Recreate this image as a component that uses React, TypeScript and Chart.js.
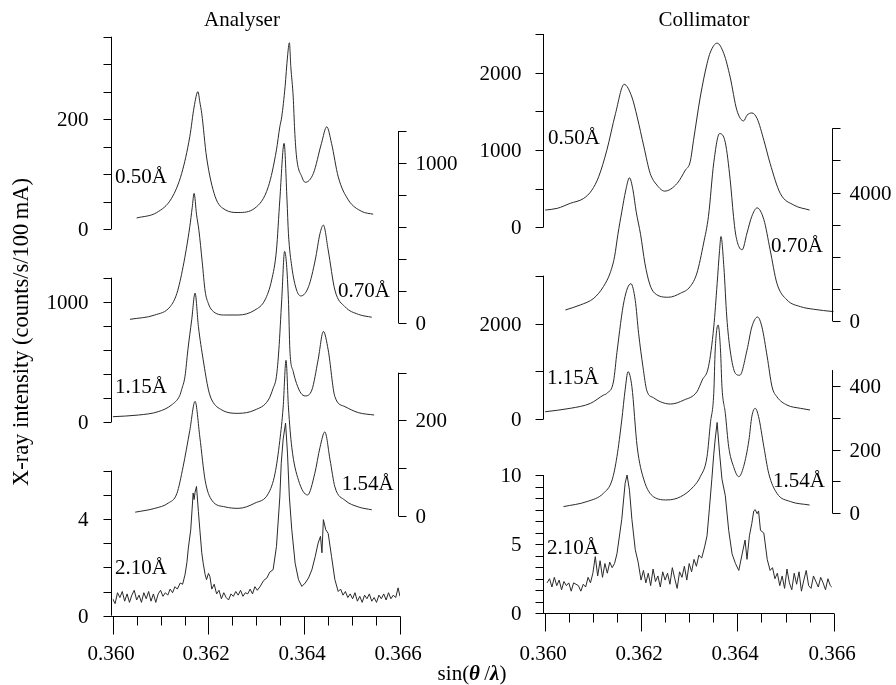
import React, { useEffect, useRef } from "react";
import { Chart, registerables } from "chart.js";

Chart.register(...registerables);

const W = 896;
const H = 685;
const FAMILY = "'Liberation Serif', 'Times New Roman', Times, serif";
const FONT = `21px ${FAMILY}`;
const FONT_BI = `italic bold 21px ${FAMILY}`;
const LINE_COLOR = "#2a2a2a";

// ---------- x axis ----------
const X_MIN = 0.36;
const X_MAX = 0.366;
const xMajorTicks = [0.36, 0.362, 0.364, 0.366];
const xMajorLabels = ["0.360", "0.362", "0.364", "0.366"];
const xMinorTicks = [0.3605, 0.361, 0.3615, 0.3625, 0.363, 0.3635, 0.3645, 0.365, 0.3655];

const curveNames = ["0.50Å", "0.70Å", "1.15Å", "1.54Å", "2.10Å"];

// ---------- Analyser data: [sin(theta/lambda), counts] ----------
const ana050: [number, number][] = [
  [0.3605, 20], [0.36092, 30], [0.36123, 56], [0.36144, 101], [0.36161, 168], [0.3617, 222],
  [0.36178, 250], [0.36182, 231], [0.36186, 210], [0.36196, 131], [0.36214, 59], [0.36235, 35],
  [0.36262, 30], [0.36297, 38], [0.36325, 77], [0.36342, 144], [0.36349, 186], [0.36353, 204],
  [0.3636, 259], [0.36365, 313], [0.36369, 339], [0.36372, 295], [0.36377, 240], [0.3638, 180],
  [0.36384, 131], [0.36395, 95], [0.36402, 85], [0.36419, 101], [0.36436, 156], [0.36447, 186],
  [0.36457, 156], [0.36471, 95], [0.36492, 53], [0.3652, 32], [0.36544, 27],
];
const ana070: [number, number][] = [
  [0.36036, 23], [0.36088, 50], [0.3612, 102], [0.36134, 185], [0.36147, 352], [0.36161, 602],
  [0.36166, 720], [0.3617, 810], [0.36175, 680], [0.3618, 580], [0.36187, 380], [0.36193, 200],
  [0.362, 120], [0.36207, 81], [0.36235, 50], [0.36262, 50], [0.36297, 81], [0.36318, 144],
  [0.36332, 269], [0.36342, 456], [0.36349, 769], [0.36358, 1123], [0.36364, 769], [0.36367, 560],
  [0.36374, 352], [0.36384, 206], [0.36393, 169], [0.36409, 227], [0.36423, 394], [0.36433, 560],
  [0.3644, 612], [0.3645, 456], [0.36464, 206], [0.36485, 102], [0.36513, 54], [0.36541, 36],
];
const ana115: [number, number][] = [
  [0.36, 44], [0.36054, 58], [0.36095, 86], [0.36123, 142], [0.3614, 220], [0.36144, 270],
  [0.36151, 380], [0.36157, 600], [0.36165, 850], [0.36172, 1072], [0.36179, 794], [0.36189, 517],
  [0.362, 267], [0.36207, 183], [0.36228, 100], [0.36262, 72], [0.36297, 100], [0.36325, 183],
  [0.36335, 280], [0.36342, 380], [0.36347, 600], [0.36353, 1017], [0.36359, 1419], [0.36367, 1017],
  [0.3637, 600], [0.36377, 420], [0.36384, 320], [0.36393, 240], [0.36402, 217], [0.36416, 267],
  [0.36429, 517], [0.3644, 753], [0.3645, 600], [0.36464, 211], [0.36485, 128], [0.36513, 78],
  [0.36546, 58],
];
const ana154: [number, number][] = [
  [0.36047, 8], [0.36088, 16], [0.36116, 27], [0.36134, 47], [0.36147, 103], [0.36161, 179],
  [0.36172, 240], [0.36182, 165], [0.36193, 75], [0.36207, 33], [0.36235, 19], [0.36262, 16],
  [0.36297, 27], [0.36325, 47], [0.36339, 89], [0.36349, 158], [0.36356, 228], [0.36362, 326],
  [0.36367, 228], [0.36374, 144], [0.36388, 75], [0.36407, 44], [0.36422, 89], [0.36433, 144],
  [0.36443, 176], [0.36454, 117], [0.36464, 61], [0.36485, 33], [0.36513, 19], [0.36541, 13],
];
const ana210: [number, number][] = [
  [0.36, 0.7], [0.36005, 0.5], [0.3601, 0.95], [0.36015, 0.75], [0.3602, 1.0], [0.36025, 0.6],
  [0.3603, 0.9], [0.36035, 0.55], [0.3604, 0.85], [0.36045, 1.05], [0.3605, 0.65], [0.36055, 0.85],
  [0.3606, 0.55], [0.36065, 0.95], [0.3607, 0.7], [0.36075, 1.0], [0.3608, 0.6], [0.36085, 0.9],
  [0.3609, 0.55], [0.36095, 0.9], [0.361, 1.05], [0.36105, 0.8], [0.3611, 0.95], [0.36115, 0.85],
  [0.3612, 1.1], [0.36125, 0.95], [0.3613, 1.2], [0.36135, 1.1], [0.36141, 1.35], [0.36146, 1.3],
  [0.36151, 1.69], [0.36155, 2.2], [0.36158, 2.8], [0.36163, 3.55], [0.36168, 5.07], [0.3617, 4.8],
  [0.36172, 5.1], [0.36175, 5.34], [0.36179, 4.3], [0.36182, 3.55], [0.36186, 2.6], [0.36189, 2.17],
  [0.36193, 1.7], [0.36196, 1.49], [0.362, 1.75], [0.36203, 1.62], [0.36207, 1.1], [0.36212, 1.3],
  [0.36217, 0.9], [0.36222, 1.05], [0.36227, 0.7], [0.36232, 0.95], [0.36237, 0.75], [0.36242, 0.65],
  [0.36247, 0.9], [0.36252, 0.8], [0.36257, 1.0], [0.36262, 0.85], [0.36267, 1.05], [0.36272, 0.8],
  [0.36277, 0.95], [0.36282, 0.9], [0.36287, 1.1], [0.36292, 0.9], [0.36297, 1.2], [0.36302, 1.05],
  [0.36308, 1.21], [0.36315, 1.45], [0.36322, 1.56], [0.36328, 1.8], [0.36335, 1.9], [0.36342, 2.86],
  [0.36349, 4.9], [0.36352, 6.3], [0.36356, 7.3], [0.36361, 7.96], [0.36365, 6.72], [0.36369, 4.9],
  [0.36374, 3.55], [0.36381, 2.17], [0.36388, 1.49], [0.36395, 1.21], [0.36402, 1.35], [0.36409, 1.56],
  [0.36416, 1.9], [0.36423, 2.45], [0.36429, 3.0], [0.36434, 3.28], [0.36437, 2.6], [0.3644, 3.97],
  [0.36445, 3.55], [0.3645, 3.4], [0.36457, 2.45], [0.36464, 1.49], [0.36471, 1.0], [0.36476, 1.1],
  [0.36481, 0.85], [0.36486, 1.0], [0.36491, 0.75], [0.36496, 0.9], [0.36501, 0.7], [0.36506, 0.95],
  [0.36511, 0.6], [0.36516, 0.8], [0.36521, 0.55], [0.36526, 0.85], [0.36531, 0.7], [0.36536, 0.9],
  [0.36541, 0.6], [0.36546, 0.75], [0.36551, 0.55], [0.36556, 0.85], [0.36561, 0.7], [0.36566, 0.9],
  [0.36571, 0.65], [0.36576, 0.95], [0.36581, 0.7], [0.36586, 0.85], [0.36591, 0.75], [0.36596, 1.15],
  [0.366, 0.8],
];

// ---------- Collimator data ----------
const col050: [number, number][] = [
  [0.36001, 223], [0.36026, 245], [0.36053, 310], [0.36081, 374], [0.36098, 481], [0.36112, 653],
  [0.36129, 997], [0.36147, 1471], [0.36165, 1849], [0.36181, 1685], [0.36192, 1427], [0.36206, 1040],
  [0.36219, 697], [0.36233, 546], [0.36249, 468], [0.36275, 568], [0.36292, 739], [0.36302, 846],
  [0.36309, 1126], [0.36323, 1685], [0.36337, 2116], [0.36344, 2266], [0.36358, 2382], [0.36372, 2245],
  [0.36385, 1943], [0.36399, 1514], [0.36413, 1376], [0.3642, 1449], [0.3643, 1479], [0.36441, 1406],
  [0.36455, 1126], [0.36468, 826], [0.36489, 439], [0.36517, 288], [0.3655, 223],
];
const col070: [number, number][] = [
  [0.36043, 344], [0.36074, 500], [0.36102, 709], [0.36122, 1072], [0.36136, 1500], [0.36145, 2000],
  [0.36152, 2700], [0.3616, 3400], [0.36168, 4050], [0.36176, 4459], [0.36183, 4100], [0.3619, 3400],
  [0.36199, 2700], [0.36208, 1800], [0.36218, 1150], [0.36228, 870], [0.36257, 740], [0.36282, 865],
  [0.36302, 1072], [0.36316, 1490], [0.3633, 2428], [0.3634, 3260], [0.36351, 4928], [0.36363, 5834],
  [0.36375, 5553], [0.36385, 4406], [0.36392, 3260], [0.36396, 2740], [0.36403, 2322], [0.3641, 2219],
  [0.3642, 2740], [0.3643, 3260], [0.36441, 3522], [0.36455, 3156], [0.36468, 2219], [0.36482, 1178],
  [0.36503, 656], [0.36531, 447], [0.36558, 366], [0.366, 291],
];
const col115: [number, number][] = [
  [0.36001, 158], [0.36053, 229], [0.36095, 333], [0.36122, 506], [0.36129, 542], [0.36143, 800],
  [0.3615, 1400], [0.36165, 2485], [0.36179, 2833], [0.36188, 2485], [0.36195, 1792], [0.36204, 1096],
  [0.36212, 600], [0.36226, 450], [0.3624, 367], [0.36261, 319], [0.36289, 402], [0.36316, 575],
  [0.36327, 819], [0.3634, 1096], [0.36351, 1929], [0.36358, 2833], [0.36363, 3527], [0.36366, 3819],
  [0.36372, 3179], [0.36378, 2138], [0.36385, 1444], [0.36396, 958], [0.36405, 920], [0.3642, 1444],
  [0.3643, 1929], [0.36442, 2138], [0.36451, 1929], [0.36462, 1304], [0.36472, 679], [0.36482, 471],
  [0.36503, 298], [0.36531, 229], [0.36551, 194],
];
const col154: [number, number][] = [
  [0.36039, 21], [0.36088, 37], [0.36122, 63], [0.3614, 105], [0.3615, 178], [0.3616, 293],
  [0.36167, 388], [0.36173, 445], [0.36181, 398], [0.36192, 209], [0.36206, 105], [0.36226, 52],
  [0.36254, 42], [0.36282, 52], [0.36309, 84], [0.36323, 115], [0.36337, 178], [0.36344, 283],
  [0.36351, 377], [0.36354, 513], [0.3636, 592], [0.36365, 513], [0.36368, 398], [0.36375, 314],
  [0.36382, 209], [0.36392, 147], [0.36403, 115], [0.36413, 147], [0.36424, 230], [0.3643, 304],
  [0.36437, 330], [0.36444, 304], [0.36455, 209], [0.36465, 126], [0.36482, 63], [0.3651, 37],
  [0.3655, 26],
];
const col210: [number, number][] = [
  [0.36005, 2.2], [0.3601, 2.5], [0.36015, 1.9], [0.3602, 2.6], [0.36025, 2.0], [0.3603, 2.4],
  [0.36035, 1.7], [0.3604, 2.3], [0.36045, 2.0], [0.3605, 2.2], [0.36055, 1.6], [0.3606, 2.2],
  [0.36065, 2.1], [0.3607, 2.0], [0.36075, 1.6], [0.3608, 2.1], [0.36085, 1.9], [0.3609, 2.6],
  [0.36095, 2.2], [0.361, 2.9], [0.36105, 4.1], [0.3611, 2.7], [0.36115, 3.8], [0.3612, 2.6],
  [0.36125, 3.6], [0.3613, 2.9], [0.36135, 3.7], [0.3614, 3.3], [0.36145, 3.6], [0.3615, 4.3],
  [0.36154, 5.3], [0.3616, 6.8], [0.36167, 9.4], [0.36171, 10.0], [0.36176, 8.9], [0.36181, 6.8],
  [0.36188, 4.6], [0.36194, 3.7], [0.362, 2.4], [0.36205, 3.1], [0.3621, 2.2], [0.36215, 2.9],
  [0.3622, 2.0], [0.36225, 3.2], [0.3623, 2.3], [0.36235, 2.7], [0.3624, 1.9], [0.36245, 3.0],
  [0.3625, 2.4], [0.36255, 2.9], [0.3626, 2.1], [0.36265, 3.3], [0.3627, 2.5], [0.36275, 1.8],
  [0.3628, 3.0], [0.36285, 2.6], [0.3629, 3.4], [0.36295, 2.4], [0.363, 3.6], [0.36305, 3.0],
  [0.3631, 3.9], [0.36315, 3.4], [0.3632, 4.2], [0.36326, 4.0], [0.36332, 4.8], [0.36337, 5.6],
  [0.36342, 7.6], [0.36347, 9.7], [0.36351, 11.5], [0.36354, 12.6], [0.36358, 13.8], [0.36363, 11.6],
  [0.36368, 9.7], [0.36375, 8.5], [0.36382, 6.0], [0.36389, 4.3], [0.36396, 3.6], [0.36403, 3.1],
  [0.3641, 4.3], [0.36416, 5.3], [0.3642, 3.9], [0.36425, 5.6], [0.3643, 6.5], [0.36434, 7.4],
  [0.36437, 7.5], [0.36441, 7.2], [0.36444, 7.4], [0.36448, 6.0], [0.36455, 5.8], [0.36462, 3.9],
  [0.36468, 3.1], [0.36473, 3.3], [0.36478, 2.5], [0.36483, 2.9], [0.36488, 2.0], [0.36493, 2.7],
  [0.36498, 1.8], [0.36503, 3.2], [0.36508, 2.2], [0.36513, 1.7], [0.36518, 2.9], [0.36523, 2.1],
  [0.36528, 3.0], [0.36533, 1.6], [0.36538, 2.4], [0.36543, 3.1], [0.36548, 2.0], [0.36553, 1.8],
  [0.36558, 2.7], [0.36563, 2.3], [0.36568, 1.9], [0.36573, 2.6], [0.36578, 2.2], [0.36583, 1.7],
  [0.36588, 2.5], [0.36593, 2.0], [0.36596, 1.9],
];

// ---------- y-axis ranges, steps and tick labels ----------
const anaAxisTops = [350, 1200, 1200, 300, 6];
const anaAxisSteps = [50, 200, 200, 100, 1];
const anaAxisLabels = [[0, 200], [0, 1000], [0, 1000], [0, 200], [0, 4]];
const colAxisTops = [2500, 6000, 3000, 450, 10];
const colAxisSteps = [500, 1000, 1000, 100, 10 / 12];
const colAxisLabels = [[0, 1000, 2000], [0, 4000], [0, 2000], [0, 200, 400], [0, 5, 10]];
const axisSides: ("left" | "right")[] = ["left", "right", "left", "right", "left"];
const smoothSeries = [true, true, true, true, false];

// ---------- layout (pixels) ----------
type PanelLayout = {
  title: string;
  titleX: number;
  pad: { left: number; right: number; top: number; bottom: number };
  zeroY: number[];
  topY: number[];
  labelPos: [number, number][];
  leftLabelGap: number;
};

const anaLayout: PanelLayout = {
  title: "Analyser",
  titleX: 242,
  pad: { left: 112.7, right: W - 400, top: 30, bottom: H - 615.7 },
  zeroY: [229, 323, 422, 516, 615.7],
  topY: [36.7, 131, 277.7, 372.7, 470.5],
  labelPos: [[115, 176], [338, 290], [115, 385.7], [341.7, 483.3], [115, 567.3]],
  leftLabelGap: 23,
};
const colLayout: PanelLayout = {
  title: "Collimator",
  titleX: 704,
  pad: { left: 544.7, right: W - 833.7, top: 30, bottom: H - 613.3 },
  zeroY: [227.3, 321, 419.3, 513.3, 613.3],
  topY: [34, 128.3, 275.7, 370.1, 475],
  labelPos: [[548, 136.7], [771, 245], [547, 376.7], [773, 480], [547, 546.7]],
  leftLabelGap: 22,
};

type PanelSpec = {
  layout: PanelLayout;
  series: [number, number][][];
  tops: number[];
  steps: number[];
  labels: number[][];
  drawCommon: boolean;
};

const panels: PanelSpec[] = [
  { layout: anaLayout, series: [ana050, ana070, ana115, ana154, ana210], tops: anaAxisTops, steps: anaAxisSteps, labels: anaAxisLabels, drawCommon: true },
  { layout: colLayout, series: [col050, col070, col115, col154, col210], tops: colAxisTops, steps: colAxisSteps, labels: colAxisLabels, drawCommon: false },
];

function crisp(v: number) {
  return Math.round(v) + 0.5;
}

function makePlugin(spec: PanelSpec) {
  return {
    id: "stackedAxes",
    afterDraw(chart: any) {
      const ctx: CanvasRenderingContext2D = chart.ctx;
      const xs = chart.scales.x;
      const area = chart.chartArea;
      const L = spec.layout;
      ctx.save();
      ctx.strokeStyle = "#000";
      ctx.fillStyle = "#000";
      ctx.lineWidth = 1;
      ctx.font = FONT;

      const seg = (x1: number, y1: number, x2: number, y2: number) => {
        ctx.beginPath();
        ctx.moveTo(x1, y1);
        ctx.lineTo(x2, y2);
        ctx.stroke();
      };

      spec.series.forEach((_, i) => {
        const sc = chart.scales["y" + i];
        const side = axisSides[i];
        const xEdge = crisp((side === "left" ? xs.getPixelForValue(X_MIN) : xs.getPixelForValue(X_MAX)) - 1.5);
        const y0 = sc.getPixelForValue(0);
        const y1 = sc.getPixelForValue(spec.tops[i]);
        seg(xEdge, y0, xEdge, y1);
        const dir = side === "left" ? -1 : 1;
        const step = spec.steps[i];
        for (let k = 0; k * step <= spec.tops[i] + 1e-9; k++) {
          const y = crisp(sc.getPixelForValue(k * step));
          seg(xEdge, y, xEdge + dir * 8, y);
        }
        ctx.textAlign = side === "left" ? "right" : "left";
        ctx.textBaseline = "alphabetic";
        for (const v of spec.labels[i]) {
          const y = sc.getPixelForValue(v);
          const tx = side === "left" ? xEdge - L.leftLabelGap : xEdge + 17;
          ctx.fillText(String(v), tx, y + 7);
        }
      });

      const yb = crisp(area.bottom);
      seg(xs.getPixelForValue(X_MIN) - 1.5, yb, xs.getPixelForValue(X_MAX) + 0.5, yb);
      for (const v of xMinorTicks) {
        const x = crisp(xs.getPixelForValue(v));
        seg(x, yb, x, yb + 9);
      }
      ctx.textAlign = "center";
      xMajorTicks.forEach((v, j) => {
        const x = crisp(xs.getPixelForValue(v));
        seg(x, yb, x, yb + 18);
        ctx.fillText(xMajorLabels[j], x - 2.5, 660);
      });

      ctx.textAlign = "left";
      curveNames.forEach((name, i) => {
        const [lx, ly] = L.labelPos[i];
        ctx.fillText(name, lx, ly + 7);
      });

      ctx.textAlign = "center";
      ctx.fillText(L.title, L.titleX, 26);

      if (spec.drawCommon) {
        ctx.save();
        ctx.font = `22.5px ${FAMILY}`;
        ctx.translate(28, 332);
        ctx.rotate(-Math.PI / 2);
        ctx.textAlign = "center";
        ctx.fillText("X-ray intensity (counts/s/100\u2009mA)", 0, 0);
        ctx.restore();

        const parts: [string, string][] = [
          ["sin(", FONT],
          ["θ", FONT_BI],
          ["\u2009/", FONT],
          ["λ", FONT_BI],
          [")", FONT],
        ];
        let total = 0;
        for (const [t, f] of parts) {
          ctx.font = f;
          total += ctx.measureText(t).width;
        }
        let px = 472 - total / 2;
        ctx.textAlign = "left";
        for (const [t, f] of parts) {
          ctx.font = f;
          ctx.fillText(t, px, 680);
          px += ctx.measureText(t).width;
        }
      }
      ctx.restore();
    },
  };
}

function Panel({ spec }: { spec: PanelSpec }) {
  const ref = useRef<HTMLCanvasElement | null>(null);
  useEffect(() => {
    const canvas = ref.current;
    if (!canvas) return;
    const L = spec.layout;
    const areaTop = L.pad.top;
    const areaBottom = H - L.pad.bottom;
    const scales: any = {
      x: { type: "linear", min: X_MIN, max: X_MAX, display: false, bounds: "data" },
    };
    spec.series.forEach((_, i) => {
      const k = (L.zeroY[i] - L.topY[i]) / spec.tops[i];
      scales["y" + i] = {
        type: "linear",
        display: false,
        bounds: "data",
        min: -(areaBottom - L.zeroY[i]) / k,
        max: (L.zeroY[i] - areaTop) / k,
      };
    });
    const chart = new Chart(canvas, {
      type: "line",
      data: {
        datasets: spec.series.map((pts, i) => ({
          label: curveNames[i],
          data: pts.map(([x, y]) => ({ x, y })),
          yAxisID: "y" + i,
          borderColor: LINE_COLOR,
          borderWidth: 1,
          pointRadius: 0,
          tension: smoothSeries[i] ? 0.4 : 0,
          cubicInterpolationMode: smoothSeries[i] ? "monotone" : "default",
          fill: false,
        })),
      },
      options: {
        responsive: false,
        animation: false,
        layout: { padding: L.pad },
        plugins: { legend: { display: false }, tooltip: { enabled: false }, title: { display: false } },
        events: [],
        scales,
      },
      plugins: [makePlugin(spec)],
    } as any);
    return () => chart.destroy();
  }, [spec]);
  return (
    <canvas
      ref={ref}
      width={W}
      height={H}
      style={{ position: "absolute", left: 0, top: 0, width: W, height: H }}
    />
  );
}

export default function App() {
  return (
    <div style={{ position: "absolute", left: 0, top: 0, width: W, height: H, background: "#fff", overflow: "hidden" }}>
      {panels.map((p, i) => (
        <Panel key={i} spec={p} />
      ))}
    </div>
  );
}
